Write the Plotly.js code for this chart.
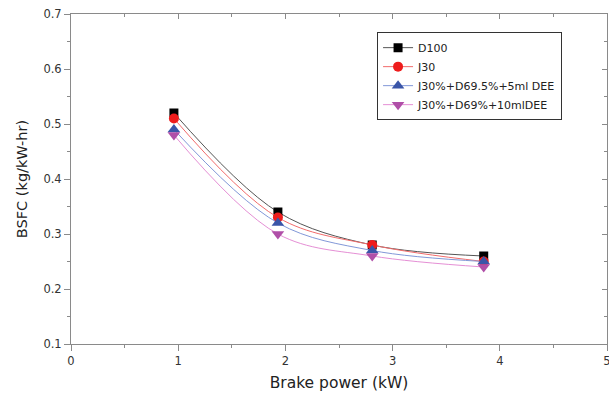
<!DOCTYPE html>
<html><head><meta charset="utf-8">
<script src="https://cdn.plot.ly/plotly-3.0.1.min.js"></script>
<style>html,body{margin:0;padding:0;background:#fff}#c{width:609px;height:396px}</style>
</head><body><div id="c"></div>
<script>
const power = [0.96, 1.93, 2.81, 3.85];
const d100 = [0.52, 0.34, 0.28, 0.26];
const j30 = [0.51, 0.33, 0.28, 0.25];
const j30dee5 = [0.49, 0.32, 0.27, 0.25];
const j30dee10 = [0.48, 0.30, 0.26, 0.24];
const names = ['D100', 'J30', 'J30%+D69.5%+5ml DEE', 'J30%+D69%+10mlDEE'];

const series = [d100, j30, j30dee5, j30dee10];
const markerColors = ['#000000', '#ee1c1c', '#3a55a8', '#b04fa8'];
const lineColors = ['#555555', '#f26b6b', '#8298d8', '#e58fd5'];
const symbols = ['square', 'circle', 'triangle-up', 'triangle-down'];
const sizes = [9, 10, 11, 11];
const FONT = 'DejaVu Sans, Verdana, sans-serif';

const traces = series.map((s, i) => ({
  x: power, y: s, name: names[i], type: 'scatter', mode: 'lines+markers',
  line: {color: lineColors[i], width: 1, shape: 'spline', smoothing: 1},
  marker: {color: markerColors[i], symbol: symbols[i], size: sizes[i]}
}));
traces.push({x: [0], y: [0.1], xaxis: 'x2', yaxis: 'y2', mode: 'markers',
  marker: {opacity: 0}, showlegend: false, hoverinfo: 'skip'});

const axisCommon = {showgrid: false, zeroline: false, linecolor: '#8a8a8a', linewidth: 1,
  tickcolor: '#8a8a8a', ticklen: 6, ticklabeloverflow: 'allow',
  tickfont: {family: FONT, size: 11.5, color: '#333'}};

const layout = {
  width: 609, height: 396,
  margin: {l: 71, r: 2, t: 14, b: 52},
  paper_bgcolor: '#fff', plot_bgcolor: '#fff',
  showlegend: true,
  legend: {x: 0.571, y: 0.945, xanchor: 'left', yanchor: 'top', bordercolor: '#333', borderwidth: 1,
    bgcolor: '#fff', font: {family: FONT, size: 11, color: '#222'},
    tracegroupgap: 0, itemwidth: 30},
  xaxis: Object.assign({}, axisCommon, {range: [0, 5], dtick: 1, ticks: 'outside',
    showline: true, minor: {dtick: 0.5, ticks: 'outside', ticklen: 3, tickcolor: '#8a8a8a'},
    title: {text: 'Brake power (kW)', font: {family: FONT, size: 15.5, color: '#222'}, standoff: 10}}),
  yaxis: Object.assign({}, axisCommon, {range: [0.1, 0.7], dtick: 0.1, ticks: 'outside', tickformat: '.1f',
    showline: true, minor: {dtick: 0.05, ticks: 'outside', ticklen: 3, tickcolor: '#8a8a8a'},
    title: {text: 'BSFC (kg/kW-hr)', font: {family: FONT, size: 14.5, color: '#222'}, standoff: 12}}),
  xaxis2: {overlaying: 'x', side: 'top', matches: 'x', range: [0, 5], dtick: 1, ticks: 'inside', ticklen: 5,
    tickcolor: '#8a8a8a', showline: true, linecolor: '#8a8a8a', showticklabels: false, showgrid: false, zeroline: false,
    minor: {dtick: 0.5, ticks: 'inside', ticklen: 3, tickcolor: '#8a8a8a'}},
  yaxis2: {overlaying: 'y', side: 'right', range: [0.1, 0.7], dtick: 0.1, ticks: 'inside', ticklen: 5,
    tickcolor: '#8a8a8a', showline: true, linecolor: '#8a8a8a', showticklabels: false, showgrid: false, zeroline: false,
    minor: {dtick: 0.05, ticks: 'inside', ticklen: 3, tickcolor: '#8a8a8a'}}
};
Plotly.newPlot('c', traces, layout, {displayModeBar: false, staticPlot: true});
</script></body></html>
